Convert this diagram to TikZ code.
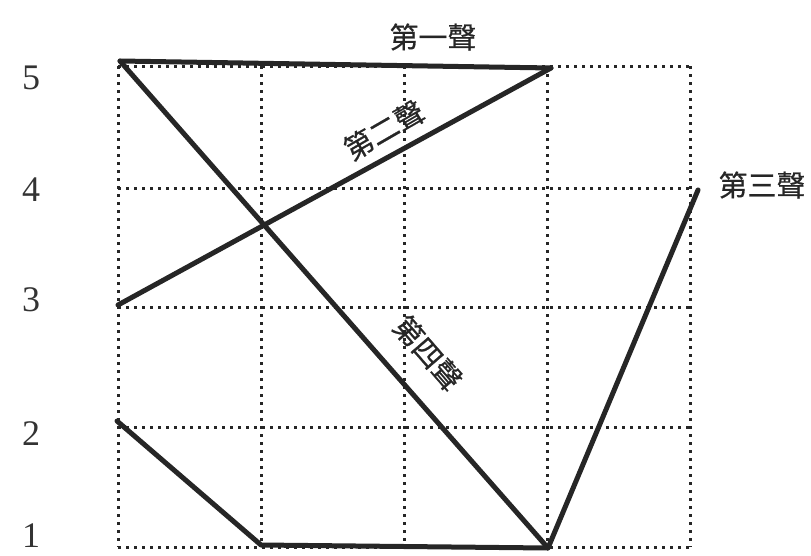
\documentclass[tikz,border=0pt]{standalone}
\usepackage{fontspec}
\setmainfont{Liberation Serif}
\newfontfamily\cjk[FakeBold=0.6]{Noto Sans CJK TC}
\begin{document}
\begin{tikzpicture}[x=1pt,y=-1pt,
  gridline/.style={line width=3pt,dash pattern=on 3pt off 5pt,black!85},
  tone/.style={line width=5pt,black!85,line cap=round,line join=round},
  num/.style={font=\fontsize{36}{36}\selectfont,anchor=center,text=black!80},
  lab/.style={font=\cjk\fontsize{29}{29}\selectfont,inner sep=0pt,text=black!85}]
\useasboundingbox (0,0) rectangle (811,555);
% grid
\foreach \x in {118,261,404,547,690} \draw[gridline] (\x,66) -- (\x,547);
\foreach \y in {66,188,307,427,547} \draw[gridline] (118,\y) -- (690,\y);
% level numbers
\node[num] (n5) at (31,78) {5};
\node[num] (n4) at (31,190) {4};
\node[num] (n3) at (31,300) {3};
\node[num] (n2) at (31,434) {2};
\node[num] (n1) at (31,536) {1};
% points
\coordinate (a) at (120,61);
\coordinate (b) at (551,68);
\coordinate (c) at (118,305);
\coordinate (d) at (548,548);
\coordinate (e) at (117,421);
\coordinate (f) at (261,545);
\coordinate (g) at (698,190);
% tones
\draw[tone] (a) -- (b);
\draw[tone] (c) -- (b);
\draw[tone] (a) -- (d);
\draw[tone] (e) -- (f) -- (d) -- (g);
% labels
\node[lab] (t1) at (433,37) {第一聲};
\node[lab,rotate=30] (t2) at (384,130) {第二聲};
\node[lab] (t3) at (762,185) {第三聲};
\node[lab,rotate=-49] (t4) at (428,353) {第四聲};
\end{tikzpicture}
\end{document}
